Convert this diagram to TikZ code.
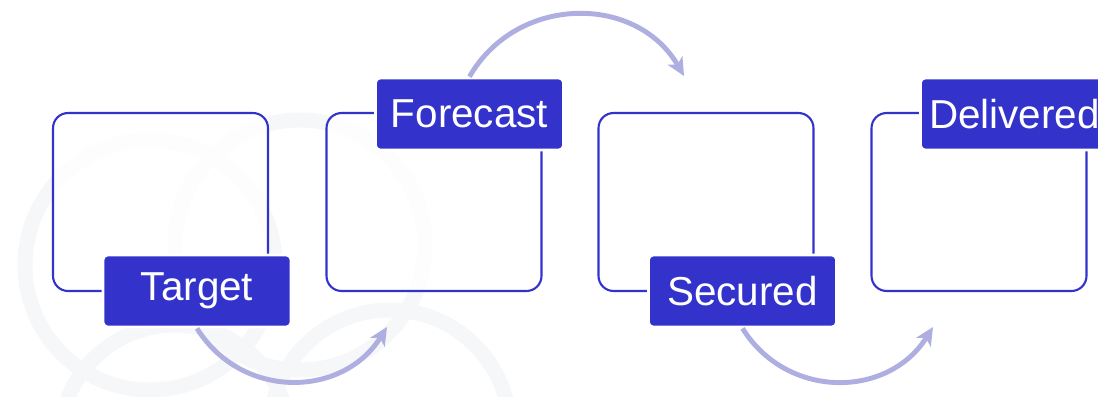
\documentclass[tikz,border=0pt]{standalone}
\usepackage{fontspec}
\setmainfont{Liberation Sans}
\usetikzlibrary{arrows.meta}

\definecolor{stageblue}{HTML}{3333CC}
\definecolor{flowlilac}{HTML}{AEAEE0}
\definecolor{ringgray}{HTML}{F6F7F9}

\tikzset{
  stagebox/.style={draw=stageblue, fill=white, fill opacity=0.85, draw opacity=1,
    line width=1.2pt, rounded corners=0.3cm,
    minimum width=4.3cm, minimum height=3.56cm, inner sep=0pt},
  stagelabel/.style={fill=stageblue, draw=white, line width=1.6pt, rounded corners=0.09cm,
    minimum width=3.76cm, minimum height=1.44cm, inner sep=0pt, text=white,
    font=\fontsize{23}{26}\selectfont},
  flowarrow/.style={flowlilac, line width=2.8pt, -{Stealth[length=0.36cm, width=0.34cm, inset=0.1cm]}},
  ring/.style={ringgray, line width=0.3cm}
}

\begin{document}
\begin{tikzpicture}[x=0.02cm, y=-0.02cm]
\useasboundingbox (0,0) rectangle (1098,396);
\clip (0,0) rectangle (1098,396);

% faint rings behind
\draw[ring] (150,265) circle[radius=125];
\draw[ring] (300,245) circle[radius=125];
\draw[ring] (175,440) circle[radius=115];
\draw[ring] (390,430) circle[radius=120];

\coordinate (b1) at (160.5,202);
\coordinate (b2) at (434,202);
\coordinate (b3) at (706,202);
\coordinate (b4) at (979,202);

\node[stagebox] (box1) at (b1) {};
\node[stagebox] (box2) at (b2) {};
\node[stagebox] (box3) at (b3) {};
\node[stagebox] (box4) at (b4) {};

\node[stagelabel] (target) at (197,291) {Target};
\node[stagelabel] (forecast) at (469.5,114) {Forecast};
\node[stagelabel] (secured) at (742.5,291) {Secured};
\node[stagelabel] (delivered) at (1014.5,114) {Delivered};

% arrow ends
\coordinate (t1) at (387,327);
\coordinate (t2) at (684,76);
\coordinate (t3) at (933,327);

\draw[flowarrow] (target.south) to[out=-58, in=-122, looseness=1.13] (t1);
\draw[flowarrow] (forecast.north) to[out=60, in=120, looseness=1.13] (t2);
\draw[flowarrow] (secured.south) to[out=-58, in=-122, looseness=1.13] (t3);
\end{tikzpicture}
\end{document}
